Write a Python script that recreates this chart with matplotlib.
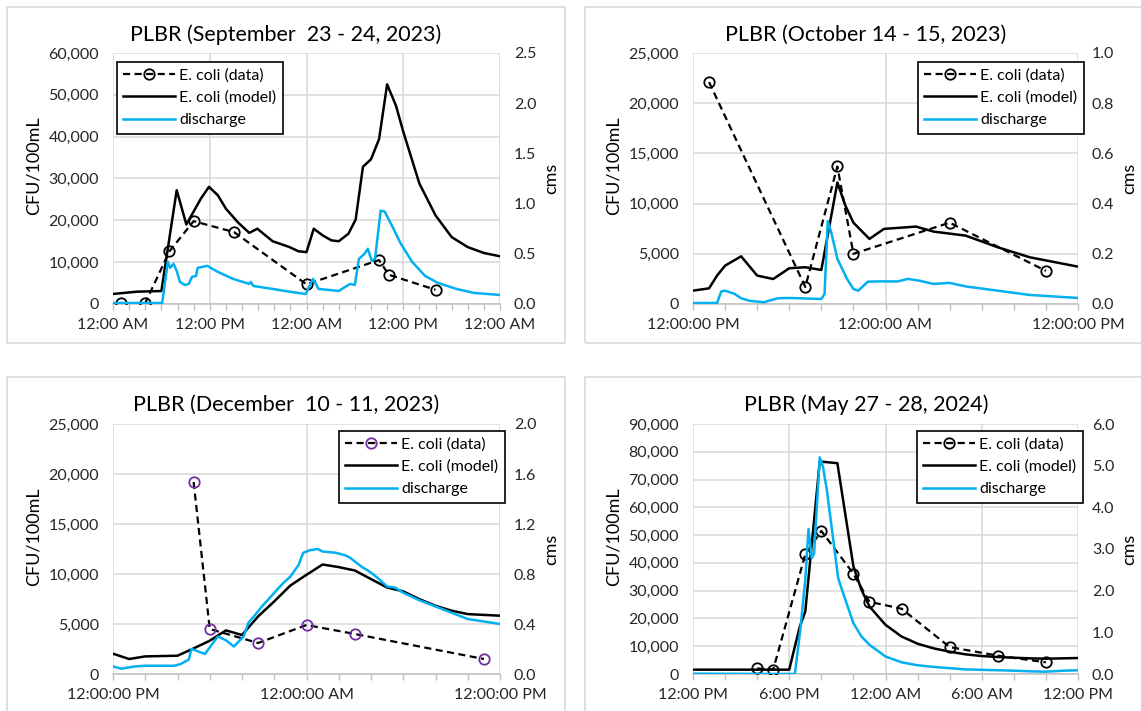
import numpy as np
import matplotlib.pyplot as plt
from matplotlib.lines import Line2D
from matplotlib.patches import Rectangle
from matplotlib.ticker import FuncFormatter, MultipleLocator

plt.rcParams['font.family'] = ['Lato', 'DejaVu Sans']

BLUE = '#00B0F0'
GRID = '#D9D9D9'
TXT = '#262626'

# ---- September 23 - 24, 2023 (hours from 12:00 AM) ----
sep_data_t = [1, 4, 7, 10, 15, 24, 33, 34.2, 40]
sep_data_v = [200, 200, 12600, 19800, 17200, 4700, 10500, 7000, 3400]
sep_model_t = [0, 3, 6, 7.9, 9.1, 10.9, 11.9, 13, 14, 15.5, 16.9, 17.9, 19.8, 21.9, 23,
               24, 24.9, 26, 27.1, 28, 29.2, 30.1, 31, 32, 33, 34, 35.1, 36, 38, 40,
               42, 44, 46, 48]
sep_model_v = [2400, 2950, 3100, 27200, 19000, 25200, 28000, 26000, 22800, 19500, 17000,
               18000, 15000, 13600, 12600, 12400, 18000, 16400, 15200, 15000, 16800, 20200,
               32800, 34600, 39400, 52500, 47400, 41200, 28800, 21200, 16000, 13600, 12200,
               11400]
sep_q_t = [0, 6.1, 6.8, 7.1, 7.5, 7.9, 8.3, 8.9, 9.4, 9.8, 10.3, 10.5, 11.7, 13, 14.9,
           16.9, 17.1, 17.4, 19.8, 22.1, 23.9, 24.8, 25.5, 28, 29.4, 30, 30.5, 31.2, 31.6,
           32.1, 32.5, 33.2, 33.7, 34.6, 35.7, 37.1, 38.7, 40.3, 42.6, 44.8, 48]
sep_q_v = [0.01, 0.01, 0.42, 0.36, 0.40, 0.33, 0.22, 0.19, 0.20, 0.27, 0.28, 0.36, 0.38,
           0.32, 0.25, 0.20, 0.22, 0.18, 0.15, 0.12, 0.10, 0.25, 0.15, 0.13, 0.20, 0.19,
           0.45, 0.50, 0.55, 0.43, 0.45, 0.93, 0.92, 0.78, 0.60, 0.42, 0.28, 0.21, 0.15,
           0.11, 0.09]

# ---- October 14 - 15, 2023 (hours from 12:00 PM) ----
oct_data_t = [1, 7, 9, 10, 16, 22]
oct_data_v = [22100, 1700, 13700, 5000, 8100, 3300]
oct_model_t = [0, 1, 1.5, 2, 3, 4, 5, 6, 7, 8, 9, 9.5, 10, 11, 11.9, 13.9, 15, 17, 19, 21, 24]
oct_model_v = [1330, 1560, 2830, 3820, 4750, 2830, 2490, 3560, 3660, 3390, 12100, 9800,
               8100, 6480, 7480, 7710, 7210, 6810, 5650, 4650, 3720]
oct_q_t = [0, 1.5, 1.76, 2, 2.6, 3, 3.5, 4.4, 5.3, 6, 8, 8.2, 8.4, 8.6, 9, 9.6, 10, 10.3,
           10.9, 11.6, 12.75, 13.4, 14.1, 15, 16, 17, 19, 21, 24]
oct_q_v = [0.004, 0.004, 0.05, 0.053, 0.04, 0.023, 0.013, 0.007, 0.023, 0.024, 0.02, 0.04,
           0.33, 0.29, 0.18, 0.10, 0.06, 0.053, 0.089, 0.09, 0.09, 0.10, 0.093, 0.08,
           0.084, 0.07, 0.053, 0.036, 0.024]

# ---- December 10 - 11, 2023 (hours from 12:00 PM) ----
dec_data_t = [5, 6, 9, 12, 15, 23]
dec_data_v = [19200, 4500, 3100, 4900, 4000, 1500]
dec_model_t = [0, 1, 2, 4, 5, 6, 7, 8, 9, 10, 11, 12, 13, 14, 15, 16, 17, 18, 19, 20, 21,
               22, 24]
dec_model_v = [2030, 1500, 1760, 1830, 2560, 3330, 4360, 3900, 5760, 7260, 8850, 9920,
               10950, 10690, 10350, 9490, 8650, 8260, 7490, 6820, 6330, 5990, 5830]
dec_q_t = [0, 0.5, 1.4, 2, 3.8, 4.2, 4.7, 4.86, 5.3, 5.7, 6.5, 7, 7.5, 8.1, 8.4, 8.8, 9.2,
           10.5, 11, 11.5, 11.8, 12.2, 12.7, 13, 13.8, 14.4, 14.7, 15.4, 15.9, 16.4, 17,
           17.5, 18, 19, 20, 21, 22, 23, 24]
dec_q_v = [0.061, 0.043, 0.061, 0.066, 0.066, 0.08, 0.115, 0.20, 0.18, 0.16, 0.30, 0.27,
           0.22, 0.30, 0.41, 0.47, 0.535, 0.72, 0.78, 0.87, 0.97, 0.99, 1.0, 0.98, 0.97,
           0.95, 0.93, 0.86, 0.82, 0.77, 0.70, 0.69, 0.65, 0.59, 0.54, 0.49, 0.44, 0.42,
           0.40]

# ---- May 27 - 28, 2024 (hours from 12:00 PM) ----
may_data_t = [4, 5, 7, 8, 10, 11, 13, 16, 19, 22]
may_data_v = [2000, 1600, 43100, 51500, 36100, 26000, 23500, 9700, 6600, 4200]
may_model_t = [0, 6, 6.25, 6.66, 7, 7.9, 9, 10, 10.5, 11, 12, 13, 14, 15, 16, 17, 18, 19,
               21, 22, 24]
may_model_v = [1560, 1560, 7550, 17100, 22500, 76500, 75900, 38700, 30300, 24300, 17700,
               13500, 10900, 9230, 8030, 7070, 6470, 6110, 5630, 5510, 5750]
may_q_t = [0, 6.35, 6.7, 7.0, 7.2, 7.4, 7.55, 7.9, 8.1, 8.35, 8.75, 9.05, 9.5, 10, 10.5,
           11, 12, 13, 14, 15, 16, 17, 18, 19, 20, 21, 22, 23.1, 24]
may_q_v = [0.008, 0.0, 1.1, 2.26, 3.48, 2.78, 2.9, 5.2, 4.98, 4.4, 3.2, 2.3, 1.78, 1.22,
           0.9, 0.70, 0.42, 0.28, 0.21, 0.17, 0.14, 0.11, 0.10, 0.09, 0.08, 0.064, 0.056,
           0.08, 0.09]

W, H = 1141, 711
fig = plt.figure(figsize=(W / 100, H / 100), dpi=100)


def px_box(x0, y0, x1, y1):
    return [x0 / W, 1 - y1 / H, (x1 - x0) / W, (y1 - y0) / H]


def panel(box, frame, title, title_xy, dt, dv, mt, mv, qt, qv, span, xt, xlabels,
          ymax, ystep, qmax, qstep, qfmt, marker_color='black', legend_loc=None):
    # light grey outline around each chart
    fx0, fy0, fx1, fy1 = frame
    fig.patches.append(Rectangle((fx0 / W, 1 - fy1 / H), (fx1 - fx0) / W, (fy1 - fy0) / H,
                                 transform=fig.transFigure, fill=False,
                                 edgecolor=GRID, lw=1.2))
    fig.text(title_xy[0] / W, 1 - title_xy[1] / H, title, ha='center', va='center',
             fontsize=15.5, color='black')

    width = box[2] - box[0]
    ax = fig.add_axes(px_box(*box))
    ax.set_xlim(0, span)
    ax.set_ylim(0, ymax)
    ax.yaxis.set_major_locator(MultipleLocator(ystep))
    ax.yaxis.set_major_formatter(FuncFormatter(lambda v, p: f'{int(v):,}'))
    ax.set_xticks(xt)
    ax.set_xticklabels(xlabels)
    ax.xaxis.set_minor_locator(MultipleLocator(2))
    ax.grid(True, which='major', color=GRID, lw=1.1)
    ax.set_axisbelow(True)
    for s in ['top', 'left', 'right']:
        ax.spines[s].set_visible(False)
    ax.spines['bottom'].set_color('#BFBFBF')
    ax.spines['bottom'].set_linewidth(1.1)
    ax.tick_params(axis='x', which='both', direction='out', length=4, color='#BFBFBF',
                   width=1, labelsize=11.5, labelcolor=TXT, pad=6)
    ax.tick_params(axis='y', length=0, labelsize=11.5, labelcolor=TXT, pad=10)
    ax.set_ylabel('CFU/100mL', fontsize=13, color='black')
    ax.yaxis.set_label_coords(-71 / width, 0.55)

    ax.plot(mt, mv, color='black', lw=1.8, zorder=3)
    ax.plot(dt, dv, color='black', lw=1.6, ls=(0, (3.2, 2)), marker='o', ms=7.5,
            mfc='none', mec=marker_color, mew=1.3, zorder=4)

    ax2 = ax.twinx()
    ax2.set_ylim(0, qmax)
    ax2.yaxis.set_major_locator(MultipleLocator(qstep))
    ax2.yaxis.set_major_formatter(FuncFormatter(lambda v, p: qfmt % v))
    for s in ax2.spines.values():
        s.set_visible(False)
    ax2.tick_params(axis='y', length=0, labelsize=11.5, labelcolor=TXT, pad=10)
    ax2.set_ylabel('cms', fontsize=13, color='black')
    ax2.yaxis.set_label_coords(1 + 43 / width, 0.5)
    ax2.plot(qt, qv, color=BLUE, lw=1.8)

    handles = [
        Line2D([], [], color='black', lw=1.6, ls=(0, (3.2, 2)), marker='o', ms=7.5,
               mfc='none', mec=marker_color, mew=1.3),
        Line2D([], [], color='black', lw=1.8),
        Line2D([], [], color=BLUE, lw=1.8),
    ]
    leg = ax2.legend(handles, ['E. coli (data)', 'E. coli (model)', 'discharge'],
                     loc='upper left', bbox_to_anchor=legend_loc, fontsize=11.5,
                     frameon=True, fancybox=False, framealpha=1, edgecolor='black',
                     handlelength=3.2, handletextpad=0.3, borderpad=0.4,
                     labelspacing=0.5, borderaxespad=0)
    leg.get_frame().set_linewidth(1.2)
    return ax


tick_24 = [0, 12, 24]
lab_24 = ['12:00:00 PM', '12:00:00 AM', '12:00:00 PM']

panel((113, 53, 500, 304), (7, 7, 565, 343), 'PLBR (September  23 - 24, 2023)', (286, 35),
      sep_data_t, sep_data_v, sep_model_t, sep_model_v, sep_q_t, sep_q_v, 48,
      [0, 12, 24, 36, 48], ['12:00 AM', '12:00 PM', '12:00 AM', '12:00 PM', '12:00 AM'],
      60000, 10000, 2.5, 0.5, '%.1f', legend_loc=((117 - 113) / 387, (304 - 62) / 251))

panel((693, 53, 1078, 304), (585, 7, 1150, 343), 'PLBR (October 14 - 15, 2023)', (866, 35),
      oct_data_t, oct_data_v, oct_model_t, oct_model_v, oct_q_t, oct_q_v, 24,
      tick_24, lab_24, 25000, 5000, 1.0, 0.2, '%.1f',
      legend_loc=((918 - 693) / 385, (304 - 62) / 251))

panel((113, 424, 500, 674), (7, 377, 565, 720), 'PLBR (December  10 - 11, 2023)', (286, 405),
      dec_data_t, dec_data_v, dec_model_t, dec_model_v, dec_q_t, dec_q_v, 24,
      tick_24, lab_24, 25000, 5000, 2.0, 0.4, '%.1f', marker_color='#7030A0',
      legend_loc=((339 - 113) / 387, (674 - 431) / 250))

panel((693, 424, 1078, 674), (585, 377, 1150, 720), 'PLBR (May 27 - 28, 2024)', (866, 405),
      may_data_t, may_data_v, may_model_t, may_model_v, may_q_t, may_q_v, 24,
      [0, 6, 12, 18, 24], ['12:00 PM', '6:00 PM', '12:00 AM', '6:00 AM', '12:00 PM'],
      90000, 10000, 6.0, 1.0, '%.1f', legend_loc=((917 - 693) / 385, (674 - 431) / 250))

fig.savefig('out.png', dpi=100, facecolor='white')
